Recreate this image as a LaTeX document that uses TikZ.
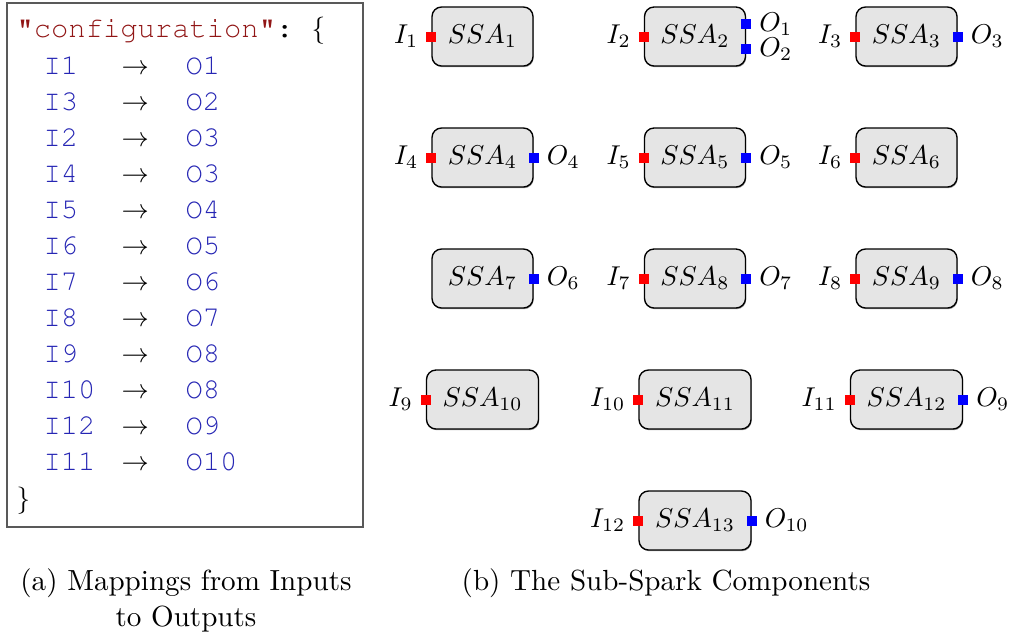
\documentclass[tikz,border=0pt]{standalone}
\usepackage[T1]{fontenc}
\usepackage{fontspec}
\usetikzlibrary{shadows}
\newcommand\codefont{\fontencoding{T1}\fontfamily{pcr}\selectfont}
\def\px{0.3676pt}
\definecolor{strred}{RGB}{145,22,22}
\definecolor{keyblue}{RGB}{38,38,180}

\begin{document}
\begin{tikzpicture}[x=\px, y=-\px,
  ssa/.style={draw=black, fill=gray!20, rounded corners=3.5pt, line width=0.5pt,
    minimum height={59*\px}, inner xsep=0pt,
    drop shadow={shadow xshift=0.25pt, shadow yshift=-0.45pt, opacity=0.55, fill=black!70}},
  ssaA/.style={ssa, minimum width={101*\px}},
  ssaB/.style={ssa, minimum width={112*\px}},
  inport/.style={fill=red, inner sep=0pt, minimum size={10*\px}},
  outport/.style={fill=blue, inner sep=0pt, minimum size={10*\px}},
  inlbl/.style={anchor=east, inner sep=0pt, xshift={-7*\px}},
  outlbl/.style={anchor=west, inner sep=0pt, xshift={7*\px}},
  codetxt/.style={anchor=base west, inner sep=0pt, font=\codefont\fontsize{10.6pt}{12pt}\selectfont},
  codeI/.style={codetxt, text=keyblue},
  arr/.style={anchor=base west, inner sep=0pt},
  captxt/.style={anchor=base, inner sep=0pt, font=\fontsize{10.7pt}{12pt}\selectfont},
  codeframe/.style={draw=black!65, line width=0.55pt}
]
\useasboundingbox (0,0) rectangle (1012,634);

% ---------- configuration listing ----------
\draw[codeframe] (7,3) rectangle (363,527);
\node[codetxt] (head) at (16,37) {{\color{strred}"configuration"}:};
\node[arr] (lbrace) at (311,37) {$\{$};
\node[codeI] (i1)  at (43,74)  {I1};  \node[arr] (a1)  at (121,74)  {$\rightarrow$}; \node[codeI] (o1)  at (185,74)  {O1};
\node[codeI] (i2)  at (43,110) {I3};  \node[arr] (a2)  at (121,110) {$\rightarrow$}; \node[codeI] (o2)  at (185,110) {O2};
\node[codeI] (i3)  at (43,146) {I2};  \node[arr] (a3)  at (121,146) {$\rightarrow$}; \node[codeI] (o3)  at (185,146) {O3};
\node[codeI] (i4)  at (43,182) {I4};  \node[arr] (a4)  at (121,182) {$\rightarrow$}; \node[codeI] (o4)  at (185,182) {O3};
\node[codeI] (i5)  at (43,218) {I5};  \node[arr] (a5)  at (121,218) {$\rightarrow$}; \node[codeI] (o5)  at (185,218) {O4};
\node[codeI] (i6)  at (43,254) {I6};  \node[arr] (a6)  at (121,254) {$\rightarrow$}; \node[codeI] (o6)  at (185,254) {O5};
\node[codeI] (i7)  at (43,290) {I7};  \node[arr] (a7)  at (121,290) {$\rightarrow$}; \node[codeI] (o7)  at (185,290) {O6};
\node[codeI] (i8)  at (43,326) {I8};  \node[arr] (a8)  at (121,326) {$\rightarrow$}; \node[codeI] (o8)  at (185,326) {O7};
\node[codeI] (i9)  at (43,362) {I9};  \node[arr] (a9)  at (121,362) {$\rightarrow$}; \node[codeI] (o9)  at (185,362) {O8};
\node[codeI] (i10) at (43,398) {I10}; \node[arr] (a10) at (121,398) {$\rightarrow$}; \node[codeI] (o10) at (185,398) {O8};
\node[codeI] (i11) at (43,434) {I12}; \node[arr] (a11) at (121,434) {$\rightarrow$}; \node[codeI] (o11) at (185,434) {O9};
\node[codeI] (i12) at (43,470) {I11}; \node[arr] (a12) at (121,470) {$\rightarrow$}; \node[codeI] (o12) at (185,470) {O10};
\node[arr] (tail) at (16,507) {$\}$};

% ---------- sub-spark components ----------
% row 1
\node[ssaA] (s1) at (482.5,36.5) {$SSA_1$};
\node[inport] (s1i) at (s1.west) {};
\node[inlbl] (s1il) at (s1i.west) {$I_1$};

\node[ssaA] (s2) at (695,36.5) {$SSA_2$};
\node[inport] (s2i) at (s2.west) {};
\node[inlbl] (s2il) at (s2i.west) {$I_2$};
\node[outport] (s2oa) at ([yshift={12.5*\px}]s2.east) {};
\node[outport] (s2ob) at ([yshift={-12.5*\px}]s2.east) {};
\node[outlbl] (s2oal) at (s2oa.east) {$O_1$};
\node[outlbl] (s2obl) at (s2ob.east) {$O_2$};

\node[ssaA] (s3) at (906.5,36.5) {$SSA_3$};
\node[inport] (s3i) at (s3.west) {};
\node[inlbl] (s3il) at (s3i.west) {$I_3$};
\node[outport] (s3o) at (s3.east) {};
\node[outlbl] (s3ol) at (s3o.east) {$O_3$};

% row 2
\node[ssaA] (s4) at (482.5,157.5) {$SSA_4$};
\node[inport] (s4i) at (s4.west) {};
\node[inlbl] (s4il) at (s4i.west) {$I_4$};
\node[outport] (s4o) at (s4.east) {};
\node[outlbl] (s4ol) at (s4o.east) {$O_4$};

\node[ssaA] (s5) at (695,157.5) {$SSA_5$};
\node[inport] (s5i) at (s5.west) {};
\node[inlbl] (s5il) at (s5i.west) {$I_5$};
\node[outport] (s5o) at (s5.east) {};
\node[outlbl] (s5ol) at (s5o.east) {$O_5$};

\node[ssaA] (s6) at (906.5,157.5) {$SSA_6$};
\node[inport] (s6i) at (s6.west) {};
\node[inlbl] (s6il) at (s6i.west) {$I_6$};

% row 3
\node[ssaA] (s7) at (482.5,278.5) {$SSA_7$};
\node[outport] (s7o) at (s7.east) {};
\node[outlbl] (s7ol) at (s7o.east) {$O_6$};

\node[ssaA] (s8) at (695,278.5) {$SSA_8$};
\node[inport] (s8i) at (s8.west) {};
\node[inlbl] (s8il) at (s8i.west) {$I_7$};
\node[outport] (s8o) at (s8.east) {};
\node[outlbl] (s8ol) at (s8o.east) {$O_7$};

\node[ssaA] (s9) at (906.5,278.5) {$SSA_9$};
\node[inport] (s9i) at (s9.west) {};
\node[inlbl] (s9il) at (s9i.west) {$I_8$};
\node[outport] (s9o) at (s9.east) {};
\node[outlbl] (s9ol) at (s9o.east) {$O_8$};

% row 4
\node[ssaB] (s10) at (482.5,399.5) {$SSA_{10}$};
\node[inport] (s10i) at (s10.west) {};
\node[inlbl] (s10il) at (s10i.west) {$I_9$};

\node[ssaB] (s11) at (695,399.5) {$SSA_{11}$};
\node[inport] (s11i) at (s11.west) {};
\node[inlbl] (s11il) at (s11i.west) {$I_{10}$};

\node[ssaB] (s12) at (906.5,399.5) {$SSA_{12}$};
\node[inport] (s12i) at (s12.west) {};
\node[inlbl] (s12il) at (s12i.west) {$I_{11}$};
\node[outport] (s12o) at (s12.east) {};
\node[outlbl] (s12ol) at (s12o.east) {$O_9$};

% row 5
\node[ssaB] (s13) at (695,520.5) {$SSA_{13}$};
\node[inport] (s13i) at (s13.west) {};
\node[inlbl] (s13il) at (s13i.west) {$I_{12}$};
\node[outport] (s13o) at (s13.east) {};
\node[outlbl] (s13ol) at (s13o.east) {$O_{10}$};

% ---------- captions ----------
\node[captxt] (capa1) at (186,590) {(a) Mappings from Inputs};
\node[captxt] (capa2) at (186,626) {to Outputs};
\node[captxt] (capb)  at (666,590) {(b) The Sub-Spark Components};
\end{tikzpicture}
\end{document}
